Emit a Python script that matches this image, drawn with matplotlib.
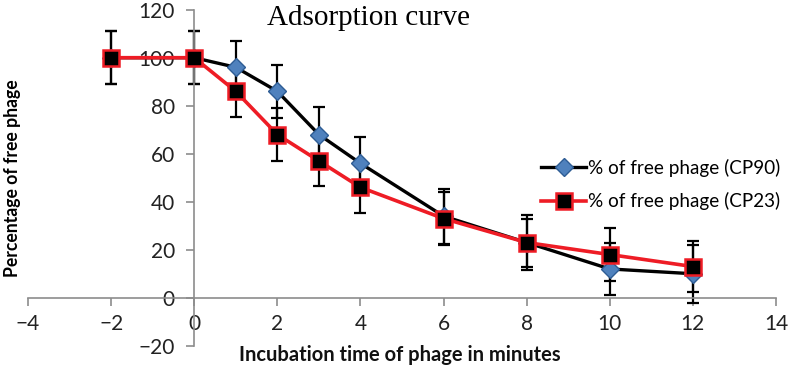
import matplotlib
matplotlib.use('Agg')
import matplotlib.pyplot as plt

# incubation time (minutes)
time = [-2, 0, 1, 2, 3, 4, 6, 8, 10, 12]
# % of free phage
cp90 = [100, 100, 96, 86, 68, 56, 34, 23, 12, 10]
cp90_err = [11, 11, 11, 11, 11.5, 11, 11.5, 11.5, 11, 12]
cp23 = [100, 100, 86, 68, 57, 46, 33, 23, 18, 13]
cp23_err = [11, 11, 10.5, 11, 10.5, 10.5, 11, 10, 11, 10.5]

xticks = [-4, -2, 0, 2, 4, 6, 8, 10, 12, 14]
yticks = [-20, 0, 20, 40, 60, 80, 100, 120]

plt.rcParams['font.family'] = ['Lato', 'DejaVu Sans']

fig = plt.figure(figsize=(8, 3.73), dpi=100)
ax = fig.add_axes([0.035, 0.073, 0.935, 0.901])

# error bars first, lines and markers on top
ax.errorbar(time, cp90, yerr=cp90_err, fmt='none', ecolor='black',
            elinewidth=1.6, capsize=4.5, capthick=1.6, zorder=2)
ax.errorbar(time, cp23, yerr=cp23_err, fmt='none', ecolor='black',
            elinewidth=1.6, capsize=4.5, capthick=1.6, zorder=2)

ax.plot(time, cp90, color='black', lw=2.4, marker='D', markersize=9,
        markerfacecolor='#4F81BD', markeredgecolor='#2E5C94', markeredgewidth=1,
        label='% of free phage (CP90)', zorder=3)
ax.plot(time, cp23, color='#EE1C25', lw=2.6, marker='s', markersize=11,
        markerfacecolor='black', markeredgecolor='#EE1C25', markeredgewidth=1.8,
        label='% of free phage (CP23)', zorder=4)

ax.set_xlim(-4, 14)
ax.set_ylim(-20, 120)
ax.set_xticks(xticks)
ax.set_yticks(yticks)

# axes cross at zero like the spreadsheet chart
ax.spines['left'].set_position(('data', 0))
ax.spines['bottom'].set_position(('data', 0))
ax.spines['right'].set_visible(False)
ax.spines['top'].set_visible(False)
for s in ['left', 'bottom']:
    ax.spines[s].set_color('#8c8c8c')
    ax.spines[s].set_linewidth(1.2)
ax.tick_params(axis='both', direction='out', length=6, width=1.2,
               color='#8c8c8c', labelsize=15, labelcolor='#222222')
ax.tick_params(axis='x', pad=6)
ax.tick_params(axis='y', pad=8)

fig.text(0.461, 0.952, 'Adsorption curve', family='Liberation Serif',
         fontsize=21, ha='center', va='center')
fig.text(0.016, 0.523, 'Percentage of free phage', rotation=90,
         fontsize=12.7, fontweight='bold', ha='center', va='center')
fig.text(0.50, 0.048, 'Incubation time of phage in minutes',
         fontsize=14.5, fontweight='bold', color='#111111', ha='center', va='center')

leg = fig.legend(loc='center left', bbox_to_anchor=(0.655, 0.505),
                 frameon=False, fontsize=13.6, handlelength=2.4,
                 handletextpad=0.1, labelspacing=0.8)

fig.savefig('out.png', dpi=100)
